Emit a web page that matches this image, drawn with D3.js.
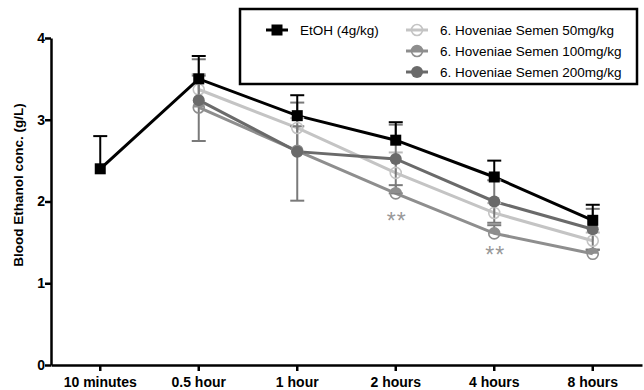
<!DOCTYPE html>
<html>
<head>
<meta charset="utf-8">
<script src="https://cdn.jsdelivr.net/npm/d3@7"></script>
<style>
  body { margin: 0; background: #fff; }
  svg { display: block; font-family: "Liberation Sans", Arial, sans-serif; }
</style>
</head>
<body>
<div id="chart"></div>
<script>
// time points (x categories)
const times = ["10 minutes", "0.5 hour", "1 hour", "2 hours", "4 hours", "8 hours"];
const yTicks = [0, 1, 2, 3, 4];

// means (g/L), null = not measured
const etoh     = [2.40, 3.50, 3.05, 2.75, 2.30, 1.77];
const hs50     = [null, 3.37, 2.90, 2.35, 1.86, 1.52];
const hs100    = [null, 3.15, 2.62, 2.10, 1.61, 1.36];
const hs200    = [null, 3.24, 2.61, 2.52, 2.00, 1.66];

// SD
const etohErr  = [0.40, 0.28, 0.25, 0.22, 0.20, 0.19];
const hs50Err  = [null, 0.19, 0.12, 0.25, 0.12, 0.10];
const hs100Err = [null, 0.39, 0.30, 0.10, 0.10, 0.05];
const hs200Err = [null, 0.50, 0.60, 0.42, 0.26, 0.25];

// significance marks
const sigTimes = ["2 hours", "4 hours"];
const sigVals  = [1.82, 1.41];

const W = 644, H = 390;
const svg = d3.select("#chart").append("svg").attr("width", W).attr("height", H);

const x = d3.scaleBand().domain(times).range([51, 642]).padding(0);
const cx = t => x(t) + x.bandwidth() / 2;
const y = d3.scaleLinear().domain([0, 4]).range([365, 38]);

const series = [
  { name: "6. Hoveniae Semen 50mg/kg",  vals: hs50,  err: hs50Err,  color: "#c4c4c4", bar: "#bbb",    sym: "ring",   both: false },
  { name: "6. Hoveniae Semen 100mg/kg", vals: hs100, err: hs100Err, color: "#8e8e8e", bar: "#7a7a7a", sym: "half",   both: false },
  { name: "6. Hoveniae Semen 200mg/kg", vals: hs200, err: hs200Err, color: "#6a6a6a", bar: "#7a7a7a", sym: "dot",    both: true },
  { name: "EtOH (4g/kg)",               vals: etoh,  err: etohErr,  color: "#000000", bar: "#000",    sym: "square", both: false }
];

const line = d3.line()
  .defined(d => d.v != null)
  .x(d => cx(d.t))
  .y(d => y(d.v));

// lines
series.forEach(s => {
  const pts = times.map((t, i) => ({ t, v: s.vals[i], e: s.err[i] }));
  svg.append("path")
    .datum(pts)
    .attr("d", line)
    .attr("fill", "none")
    .attr("stroke", s.color)
    .attr("stroke-width", 3);
});

// error bars
series.forEach(s => {
  const pts = times.map((t, i) => ({ t, v: s.vals[i], e: s.err[i] })).filter(d => d.v != null);
  const g = svg.append("g").attr("stroke", s.bar).attr("stroke-width", 2);
  pts.forEach(d => {
    const top = y(d.v + d.e);
    const bot = s.both ? y(d.v - d.e) : y(d.v);
    g.append("line").attr("x1", cx(d.t)).attr("x2", cx(d.t)).attr("y1", top).attr("y2", bot);
    g.append("line").attr("x1", cx(d.t) - 7).attr("x2", cx(d.t) + 7).attr("y1", top).attr("y2", top);
    if (s.both) g.append("line").attr("x1", cx(d.t) - 7).attr("x2", cx(d.t) + 7).attr("y1", bot).attr("y2", bot);
  });
});

function drawMarker(g, sym, color, px, py) {
  if (sym === "square") {
    g.append("rect").attr("x", px - 5.5).attr("y", py - 5.5).attr("width", 11).attr("height", 11).attr("fill", color);
  } else if (sym === "dot") {
    g.append("circle").attr("cx", px).attr("cy", py).attr("r", 6).attr("fill", color);
  } else if (sym === "ring") {
    g.append("circle").attr("cx", px).attr("cy", py).attr("r", 5.5).attr("fill", "none").attr("stroke", color).attr("stroke-width", 1.6);
  } else {
    g.append("path")
      .attr("d", `M${px - 5.5},${py} A5.5,5.5 0 0 1 ${px + 5.5},${py} Z`)
      .attr("fill", color);
    g.append("circle").attr("cx", px).attr("cy", py).attr("r", 5.5).attr("fill", "none").attr("stroke", color).attr("stroke-width", 1.6);
  }
}

// markers
[series[1], series[0], series[2], series[3]].forEach(s => {
  const g = svg.append("g");
  times.forEach((t, i) => {
    if (s.vals[i] != null) drawMarker(g, s.sym, s.color, cx(t), y(s.vals[i]));
  });
});

// significance
svg.selectAll("text.sig")
  .data(sigTimes)
  .enter().append("text")
  .attr("class", "sig")
  .attr("x", d => cx(d) + 1)
  .attr("y", (d, i) => y(sigVals[i]) + 13)
  .attr("text-anchor", "middle")
  .attr("fill", "#999")
  .attr("font-size", 23)
  .attr("letter-spacing", 1)
  .text("**");

// axes
const xAxis = svg.append("g")
  .attr("transform", "translate(0,365)")
  .call(d3.axisBottom(x).tickSize(6).tickSizeOuter(0));
xAxis.select(".domain").attr("stroke-width", 2.5);
xAxis.selectAll(".tick line").attr("stroke-width", 2.5);
xAxis.selectAll("text").attr("font-size", 14).attr("font-weight", "bold").attr("fill", "#000").attr("dy", "0.9em")
  .attr("font-family", "Liberation Sans, Arial, sans-serif");

const yAxis = svg.append("g")
  .attr("transform", "translate(51,0)")
  .call(d3.axisLeft(y).tickValues(yTicks).tickFormat(d3.format("d")).tickSize(6).tickSizeOuter(0));
yAxis.select(".domain").attr("stroke-width", 2.5);
yAxis.selectAll(".tick line").attr("stroke-width", 2.5);
yAxis.selectAll("text").attr("font-size", 14).attr("font-weight", "bold").attr("fill", "#000").attr("x", -6)
  .attr("font-family", "Liberation Sans, Arial, sans-serif");

svg.append("text")
  .attr("transform", "translate(23,185) rotate(-90)")
  .attr("text-anchor", "middle")
  .attr("font-size", 13.5)
  .attr("font-weight", "bold")
  .attr("fill", "#000")
  .text("Blood Ethanol conc. (g/L)");

// legend
const leg = svg.append("g");
leg.append("rect").attr("x", 240).attr("y", 9).attr("width", 397).attr("height", 75)
  .attr("fill", "#fff").attr("stroke", "#000").attr("stroke-width", 2.5);
const legPos = [
  { s: series[3], lx: 277, ly: 30 },
  { s: series[0], lx: 417, ly: 30 },
  { s: series[1], lx: 417, ly: 51 },
  { s: series[2], lx: 417, ly: 72 }
];
legPos.forEach(p => {
  leg.append("line").attr("x1", p.lx - 11).attr("x2", p.lx + 11).attr("y1", p.ly).attr("y2", p.ly)
    .attr("stroke", p.s.color).attr("stroke-width", 3);
  drawMarker(leg, p.s.sym, p.s.color, p.lx, p.ly);
  leg.append("text").attr("x", p.lx + 23).attr("y", p.ly + 5).attr("font-size", 13.5).attr("fill", "#000").text(p.s.name);
});
</script>
</body>
</html>
